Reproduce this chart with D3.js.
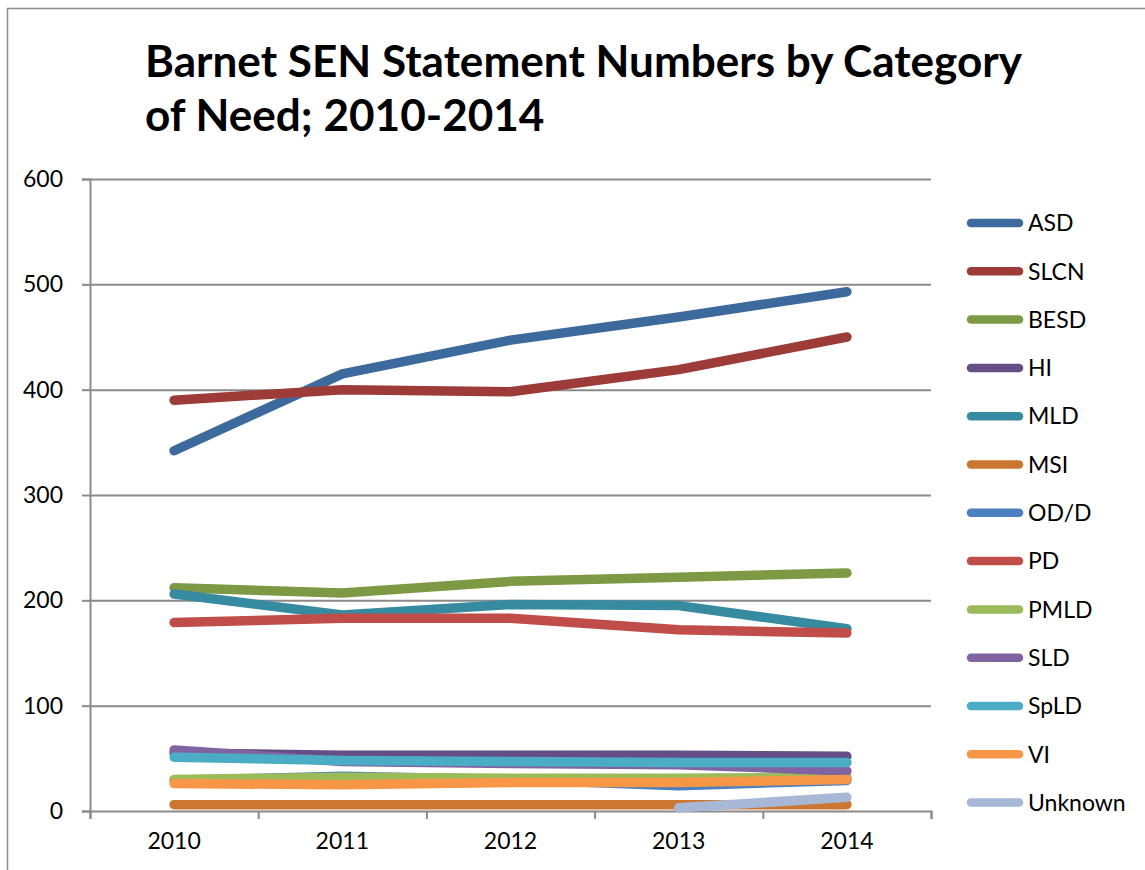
<!DOCTYPE html>
<html>
<head>
<meta charset="utf-8">
<script src="https://cdn.jsdelivr.net/npm/d3@7"></script>
<style>
  html, body { margin: 0; padding: 0; background: #fff; }
  svg { display: block; }
  text { font-family: Lato, "Open Sans", "Liberation Sans", sans-serif; fill: #000; }
</style>
</head>
<body>
<svg id="chart" width="1145" height="870"></svg>
<script>
// Statement counts per category of need, 2010-2014
const years = ["2010", "2011", "2012", "2013", "2014"];
const categories = ["ASD", "SLCN", "BESD", "HI", "MLD", "MSI", "OD/D", "PD", "PMLD", "SLD", "SpLD", "VI", "Unknown"];

const ASD     = [342, 415, 447, 469, 493];
const SLCN    = [390, 400, 398, 419, 450];
const BESD    = [212, 207, 218, 222, 226];
const HI      = [55, 53, 53, 53, 52];
const MLD     = [206, 186, 196, 195, 173];
const MSI     = [6, 6, 6, 6, 6];
const ODD     = [29, 33, 30, 24, 29];
const PD      = [179, 183, 183, 172, 169];
const PMLD    = [30, 32, 31, 31, 32];
const SLD     = [58, 47, 45, 44, 38];
const SpLD    = [51, 48, 47, 46, 46];
const VI      = [26, 25, 27, 27, 30];
const Unknown = [null, null, null, 3, 13];

const seriesValues = [ASD, SLCN, BESD, HI, MLD, MSI, ODD, PD, PMLD, SLD, SpLD, VI, Unknown];
const colors = ["#3d6a9c", "#9c3b38", "#7e9944", "#654e86", "#378ba1", "#cb7732",
                "#4a7fc0", "#c04d4a", "#9bbb59", "#8064a2", "#4bacc6", "#f79646", "#a6b8d6"];
const yTicks = [0, 100, 200, 300, 400, 500, 600];
const titleLines = ["Barnet SEN Statement Numbers by Category", "of Need; 2010-2014"];

const svg = d3.select("#chart");

// outer chart frame
svg.append("path")
  .attr("d", "M7.5,870 V8.5 H1145")
  .attr("fill", "none")
  .attr("stroke", "#8c8c8c")
  .attr("stroke-width", 1.5);

// title, sized so the first line spans the header width
const title = svg.append("g");
const t1 = title.append("text")
  .attr("x", 145).attr("y", 77)
  .attr("font-weight", "bold")
  .attr("font-size", 44)
  .text(titleLines[0]);
const w = t1.node().getComputedTextLength();
const fs = 44 * 877 / w;
t1.attr("font-size", fs);
title.append("text")
  .attr("x", 145).attr("y", 131)
  .attr("font-weight", "bold")
  .attr("font-size", fs)
  .text(titleLines[1]);

// scales
const x = d3.scaleBand().domain(years).range([90, 931]).paddingInner(0).paddingOuter(0);
const xEdge = d3.scaleLinear().domain([0, years.length]).range([90, 931]);
const y = d3.scaleLinear().domain([0, 600]).range([811, 179]);
const cx = d => x(d) + x.bandwidth() / 2;

// horizontal gridlines + y axis
const yAxis = svg.append("g")
  .attr("transform", "translate(90,0)")
  .call(d3.axisLeft(y).tickValues(yTicks).tickSize(8).tickPadding(19).tickFormat(d3.format("d")));
yAxis.select(".domain").attr("stroke", "#8a8a8a").attr("stroke-width", 2);
yAxis.selectAll(".tick line").attr("stroke", "#8a8a8a").attr("stroke-width", 2);
yAxis.selectAll(".tick text").attr("font-size", 23).attr("font-family", "Lato, sans-serif").attr("fill", "#000");

svg.append("g")
  .attr("transform", "translate(90,0)")
  .call(d3.axisLeft(y).tickValues(yTicks.filter(v => v > 0)).tickSize(-841).tickFormat(""))
  .call(g => g.select(".domain").remove())
  .selectAll(".tick line").attr("stroke", "#8a8a8a").attr("stroke-width", 2);

// x axis: ticks at category boundaries, labels at centres
const xTicks = svg.append("g")
  .attr("transform", "translate(0,811)")
  .call(d3.axisBottom(xEdge).tickValues(d3.range(years.length + 1)).tickSize(8).tickFormat(""));
xTicks.select(".domain").attr("stroke", "#8a8a8a").attr("stroke-width", 2);
xTicks.selectAll(".tick line").attr("stroke", "#8a8a8a").attr("stroke-width", 2);

const xLabels = svg.append("g")
  .attr("transform", "translate(0,811)")
  .call(d3.axisBottom(x).tickSize(0).tickPadding(22));
xLabels.select(".domain").remove();
xLabels.selectAll(".tick text").attr("font-size", 23).attr("font-family", "Lato, sans-serif").attr("fill", "#000");

// series lines, drawn in category order
const line = d3.line()
  .defined(d => d.v != null)
  .x(d => cx(d.year))
  .y(d => y(d.v));

categories.forEach((name, i) => {
  const pts = years.map((yr, j) => ({ year: yr, v: seriesValues[i][j] }));
  svg.append("path")
    .datum(pts)
    .attr("d", line)
    .attr("fill", "none")
    .attr("stroke", colors[i])
    .attr("stroke-width", 9.5)
    .attr("stroke-linecap", "round")
    .attr("stroke-linejoin", "round");
});

// legend
const legend = svg.append("g");
categories.forEach((name, i) => {
  const ly = 223 + i * 48.3;
  legend.append("line")
    .attr("x1", 971).attr("x2", 1019)
    .attr("y1", ly).attr("y2", ly)
    .attr("stroke", colors[i])
    .attr("stroke-width", 8.5)
    .attr("stroke-linecap", "round");
  legend.append("text")
    .attr("x", 1028).attr("y", ly)
    .attr("dy", "0.36em")
    .attr("font-size", 23)
    .text(name);
});
</script>
</body>
</html>
